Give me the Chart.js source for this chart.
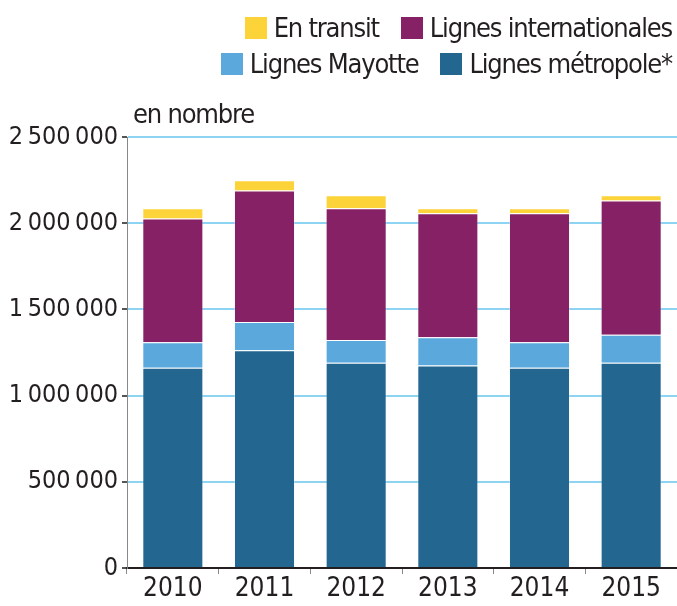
<!DOCTYPE html>
<html>
<head>
<meta charset="utf-8">
<script src="https://cdn.jsdelivr.net/npm/chart.js@4"></script>
<style>
  body { margin: 0; background: #fff; }
  #wrap { position: relative; width: 677px; height: 606px; }
  #legende { position: absolute; right: 5px; top: 10px; font-family: "Liberation Sans Narrow", "DejaVu Sans Condensed", sans-serif; font-size: 27px; letter-spacing: -1.2px; color: #231f20; text-align: right; }
  .ligne { height: 36px; line-height: 36px; white-space: nowrap; }
  .item { display: inline-block; margin-left: 22px; }
  .carre { display: inline-block; width: 22px; height: 22px; vertical-align: -2px; margin-right: 7px; }
  #unite { position: absolute; left: 133px; top: 98px; font-family: "Liberation Sans Narrow", "DejaVu Sans Condensed", sans-serif; font-size: 27px; letter-spacing: -1.2px; color: #231f20; }
</style>
</head>
<body>
<div id="wrap">
  <canvas id="grafico" width="677" height="606"></canvas>
  <div id="legende"></div>
  <div id="unite">en nombre</div>
</div>
<script>
const annees = ['2010', '2011', '2012', '2013', '2014', '2015'];
const metropole = [1162000, 1263000, 1191000, 1174000, 1162000, 1191000];
const mayotte = [147000, 164000, 131000, 164000, 147000, 162000];
const internationales = [718000, 763000, 765000, 720000, 749000, 779000];
const transit = [60000, 59000, 75000, 29000, 29000, 30000];
const ticksY = [0, 500000, 1000000, 1500000, 2000000, 2500000];

const police = '"Liberation Sans Narrow", "DejaVu Sans Condensed", sans-serif';

function formatNombre(v) {
    return String(v).replace(/\B(?=(\d{3})+(?!\d))/g, '\u202f');
}

const data = {
    labels: annees,
    datasets: [
        { label: 'Lignes métropole*', data: metropole, backgroundColor: '#236690' },
        { label: 'Lignes Mayotte', data: mayotte, backgroundColor: '#5ba8dc' },
        { label: 'Lignes internationales', data: internationales, backgroundColor: '#862165' },
        { label: 'En transit', data: transit, backgroundColor: '#fdd33a' }
    ]
};
data.datasets.forEach((ds) => {
    ds.borderColor = 'rgba(255,255,255,0.25)';
    ds.borderWidth = 1;
    ds.categoryPercentage = 1;
    ds.barPercentage = 0.666;
});

const config = {
    type: 'bar',
    data: data,
    options: {
        responsive: false,
        animation: false,
        layout: { padding: { top: 137, right: 0, left: 0, bottom: 0 } },
        plugins: {
            legend: { display: false },
            tooltip: { enabled: false }
        },
        scales: {
            x: {
                stacked: true,
                offset: true,
                afterFit: (axis) => { axis.height = 38; },
                border: { color: '#231f20', width: 2 },
                grid: { offset: true, drawOnChartArea: false, color: '#888', tickLength: 6 },
                ticks: { color: '#231f20', font: { family: police, size: 26 }, padding: 0 }
            },
            y: {
                stacked: true,
                min: 0,
                max: 2500000,
                afterBuildTicks: (axis) => { axis.ticks = ticksY.map((v) => ({ value: v })); },
                afterFit: (axis) => { axis.width = 127; },
                border: { color: '#888', width: 1 },
                grid: {
                    color: (ctx) => ctx.tick && ctx.tick.value === 0 ? 'rgba(0,0,0,0)' : '#8dd4f2',
                    lineWidth: 2,
                    tickColor: '#555',
                    tickLength: 5
                },
                ticks: {
                    color: '#231f20',
                    font: { family: police, size: 25 },
                    padding: 4,
                    callback: (v) => formatNombre(v)
                }
            }
        }
    }
};

const grafico = new Chart(document.getElementById('grafico'), config);

// légende sur deux lignes, comme l'original
const ordre = [[3, 2], [1, 0]];
const legende = document.getElementById('legende');
ordre.forEach((ligne) => {
    const div = document.createElement('div');
    div.className = 'ligne';
    ligne.forEach((i) => {
        const ds = data.datasets[i];
        const item = document.createElement('span');
        item.className = 'item';
        item.innerHTML = '<span class="carre" style="background:' + ds.backgroundColor + '"></span>' + ds.label;
        div.appendChild(item);
    });
    legende.appendChild(div);
});
</script>
</body>
</html>
